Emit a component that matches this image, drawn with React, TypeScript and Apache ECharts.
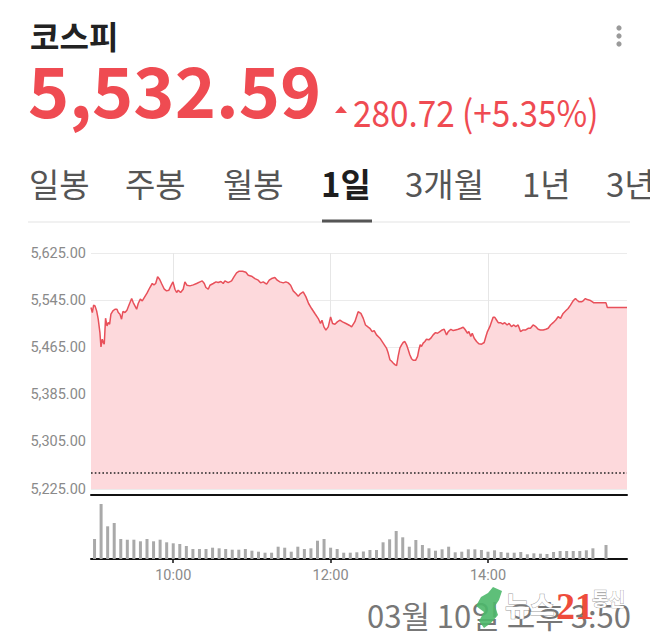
import React, { useEffect, useRef } from 'react';
import * as echarts from 'echarts';

// ---------- data ----------
const indexName = '코스피';
const lastPriceText = '5,532.59';
const changeText = '280.72 (+5.35%)';
const previousClose = 5251.87;
const periodTabs = ['일봉', '주봉', '월봉', '1일', '3개월', '1년', '3년'];
const activeTab = '1일';
const timestampText = '03월 10일 오후 3:50';

// y-axis ticks (index points)
const priceTicks = [5225, 5305, 5385, 5465, 5545, 5625];
// x-axis ticks: minutes after 09:00
const timeTicks = [60, 180, 300];
const timeTickLabels = ['10:00', '12:00', '14:00'];

// intraday price, [minutes after 09:00, index]
const openingSession = [
  [-2.7, 5532.6], [-1.7, 5524.1], [-0.7, 5536.5], [0.3, 5535.4], [1.6, 5526.9], [2.8, 5512.8],
  [4.1, 5490.2], [4.9, 5465.9], [5.9, 5478.9], [6.7, 5473.2], [7.4, 5470.4], [8.4, 5514.5],
  [9.5, 5501.5], [10.5, 5507.1], [11.5, 5504.3], [12.5, 5521.3], [14.0, 5526.9], [15.6, 5529.7],
  [17.1, 5529.7], [18.1, 5524.1], [19.4, 5521.3], [20.6, 5512.8], [21.6, 5525.8], [23.2, 5524.1],
  [24.7, 5528.0], [26.5, 5538.2], [28.3, 5547.8], [29.5, 5541.0], [30.8, 5535.4], [32.1, 5529.7],
  [33.3, 5539.4], [34.9, 5546.7], [36.4, 5543.9], [37.9, 5549.5], [40.0, 5556.9], [42.2, 5566.5],
  [44.0, 5573.3], [45.3, 5571.0], [46.6, 5573.3], [48.1, 5584.6], [49.6, 5580.6], [51.1, 5573.3],
  [53.2, 5563.6], [54.9, 5560.8], [56.7, 5562.0], [58.2, 5569.3], [59.8, 5576.1], [61.3, 5563.6],
  [62.6, 5558.0], [63.8, 5562.0], [65.6, 5558.0], [67.6, 5563.6], [68.9, 5576.1], [70.4, 5570.4],
  [72.7, 5569.3], [75.3, 5571.0], [77.8, 5573.3], [80.4, 5576.1], [82.1, 5577.8], [83.7, 5573.3],
  [84.9, 5566.5], [86.7, 5563.6], [88.0, 5570.4], [90.5, 5573.3], [92.6, 5576.1], [94.3, 5575.0],
  [96.4, 5576.6], [98.1, 5573.3], [99.4, 5577.8],
];
const lateMorning = [
  [101.9, 5574.9], [104.5, 5577.8], [106.3, 5584.6], [108.3, 5591.3], [110.3, 5594.2], [112.9, 5594.2],
  [115.4, 5592.5], [117.2, 5587.4], [119.7, 5585.7], [122.3, 5581.7], [124.8, 5578.9], [126.6, 5574.4],
  [128.6, 5576.1], [131.2, 5572.1], [133.2, 5578.9], [135.0, 5581.7], [137.5, 5583.4], [139.3, 5578.9],
  [141.3, 5576.1], [143.9, 5574.4], [145.9, 5576.1], [147.7, 5574.4], [149.5, 5570.4], [151.5, 5560.8],
  [153.5, 5556.3], [155.3, 5551.8], [157.1, 5556.3], [159.1, 5559.1], [161.2, 5550.6], [163.2, 5539.4],
  [165.5, 5530.9], [168.0, 5522.4], [170.6, 5513.9], [172.3, 5505.5], [173.4, 5511.1], [174.9, 5499.8],
  [176.4, 5494.2], [178.2, 5499.8], [180.0, 5516.8], [181.5, 5505.5], [183.3, 5504.3], [185.1, 5508.3],
  [187.1, 5511.1], [189.1, 5508.3], [191.7, 5505.5], [194.2, 5502.6], [196.0, 5499.8],
];
const earlyAfternoon = [
  [198.5, 5508.6], [201.0, 5525.4], [203.1, 5522.6], [204.9, 5514.2], [206.6, 5503.0], [208.2, 5500.2],
  [209.9, 5497.4], [211.7, 5491.8], [213.2, 5493.5], [215.0, 5486.2], [217.6, 5480.6], [220.1, 5472.2],
  [222.6, 5463.8], [223.9, 5455.4], [225.2, 5444.2], [226.5, 5441.4], [227.7, 5438.6], [229.0, 5435.8],
  [230.3, 5434.1], [231.5, 5449.8], [232.8, 5463.8], [234.1, 5469.4], [235.3, 5473.3], [236.6, 5475.0],
  [237.9, 5469.4], [239.2, 5461.0], [240.4, 5452.6], [241.7, 5445.9], [243.0, 5443.1], [244.8, 5443.1],
  [246.3, 5449.8], [247.3, 5461.0], [248.3, 5469.4], [249.3, 5466.6], [250.6, 5472.2], [251.9, 5475.0],
  [253.1, 5478.9], [254.9, 5477.8], [256.4, 5480.6], [258.2, 5486.2], [260.0, 5490.1], [261.5, 5489.0],
  [263.3, 5491.8], [265.1, 5494.6], [266.6, 5495.7], [268.4, 5486.2], [269.7, 5491.8], [271.7, 5495.7],
  [273.5, 5493.5], [275.2, 5494.6], [277.3, 5495.7], [279.3, 5497.4], [281.1, 5499.1], [282.4, 5495.7],
  [284.4, 5489.0], [285.4, 5491.8], [286.9, 5483.4], [288.0, 5489.0], [289.5, 5480.6], [291.3, 5475.0],
  [293.0, 5471.1], [295.1, 5470.5], [297.1, 5473.3], [298.4, 5483.4], [299.6, 5491.8],
];
const lateAfternoon = [
  [301.4, 5500.2], [302.7, 5508.6], [303.9, 5515.9], [305.2, 5515.9], [306.5, 5511.4], [307.8, 5506.9],
  [309.5, 5506.9], [311.1, 5504.7], [312.8, 5506.9], [314.6, 5503.0], [316.1, 5505.8], [317.9, 5500.2],
  [319.7, 5503.0], [321.2, 5500.2], [323.0, 5503.0], [324.8, 5491.8], [326.8, 5494.6], [328.8, 5494.6],
  [330.6, 5497.4], [332.4, 5497.4], [334.4, 5503.0], [336.5, 5500.2], [338.3, 5495.7], [340.0, 5494.6],
  [342.1, 5494.6], [344.1, 5495.7], [345.9, 5497.4], [347.7, 5503.0], [349.7, 5506.9], [351.7, 5511.4],
  [353.5, 5517.0], [355.3, 5514.2], [357.3, 5522.6], [359.3, 5527.1], [361.1, 5531.0], [362.9, 5536.6],
  [364.9, 5543.9], [366.7, 5547.8], [368.0, 5545.0], [369.5, 5542.2], [371.3, 5542.2], [372.6, 5543.9],
  [374.3, 5547.8], [375.6, 5546.1], [377.6, 5545.0], [379.7, 5542.2], [380.7, 5540.5], [390.0, 5540.5],
  [391.0, 5532.59], [406.0, 5532.59],
];

// volume per 5-minute bucket from 09:00 to 15:20 (relative units)
const volumeBars = [
  20, 55, 32.7, 36, 20, 19.3, 19.3, 17.7, 20, 17.7, 19.3, 16.7, 15.7, 15, 13, 10, 10, 10, 11.3, 10.7,
  10, 9.3, 9.3, 10, 8.3, 7.3, 6.3, 6.3, 12.3, 11.3, 7.3, 12.3, 10, 10.7, 18.3, 20, 11.3, 10, 6.3, 6.3,
  6.7, 7.5, 9, 9, 16.7, 19.7, 28, 21.7, 12.3, 19, 14, 10.7, 8.3, 9.7, 12.3, 6.7, 7.3, 9.7, 9.7, 9,
  7.3, 8.7, 7, 6.3, 6.3, 7, 4.7, 5.7, 5.3, 5, 7, 8, 8, 8, 8, 8.7, 10.7,
];
const closingAuctionMinute = 390;
const closingAuctionVolume = 14;

// ---------- chart ----------
const KR = "'Noto Sans CJK KR', 'Noto Sans', sans-serif";
const RED = '#ef4b52';

export default function App() {
  const ref = useRef<HTMLDivElement>(null);

  useEffect(() => {
    if (!ref.current) return;
    const chart = echarts.init(ref.current, null, { renderer: 'svg' });

    const priceSeries = [...openingSession, ...lateMorning, ...earlyAfternoon, ...lateAfternoon];
    const volumeSeries: number[][] = volumeBars.map((v, i) => [i * 5, v]);
    volumeSeries.push([closingAuctionMinute, closingAuctionVolume]);

    const tabX = [29, 125, 223, 321, 405, 522, 606];
    const tabEls = periodTabs.map((t, i) => ({
      type: 'text',
      x: tabX[i],
      y: 183,
      silent: true,
      style: {
        text: t,
        fontSize: 33,
        fontFamily: KR,
        fontWeight: t === activeTab ? 'bold' : 'normal',
        fill: t === activeTab ? '#1e1e1e' : '#555555',
        align: 'left',
        verticalAlign: 'middle',
      },
    }));

    const xMin = -2.7;
    const xMax = 406;
    const timeFmt = (v: number) => {
      const i = timeTicks.indexOf(v);
      return i >= 0 ? timeTickLabels[i] : '';
    };

    const option: any = {
      animation: false,
      backgroundColor: '#ffffff',
      grid: [
        { left: 91, right: 23, top: 253, height: 236 },
        { left: 91, right: 23, top: 495, height: 64 },
      ],
      xAxis: [
        {
          type: 'value', gridIndex: 0, min: xMin, max: xMax,
          axisLine: { show: false, onZero: false },
          axisTick: { show: false, customValues: timeTicks },
          axisLabel: { show: false },
          splitLine: { show: true, lineStyle: { color: '#e6e6e6', width: 1 } },
        },
        {
          type: 'value', gridIndex: 1, min: xMin, max: xMax, position: 'bottom',
          axisLine: { show: true, onZero: false, lineStyle: { color: '#111', width: 2 } },
          axisTick: { show: true, customValues: timeTicks, length: 4, lineStyle: { color: '#111', width: 1.5 } },
          axisLabel: {
            customValues: timeTicks, formatter: timeFmt, color: '#8a8a8a',
            fontSize: 14.5, fontFamily: 'Roboto', margin: 9,
          },
          splitLine: { show: false },
        },
        {
          type: 'value', gridIndex: 1, min: xMin, max: xMax, position: 'top',
          axisLine: { show: true, onZero: false, lineStyle: { color: '#111', width: 2 } },
          axisTick: { show: false },
          axisLabel: { show: false },
          splitLine: { show: false },
        },
      ],
      yAxis: [
        {
          type: 'value', gridIndex: 0, min: priceTicks[0], max: priceTicks[priceTicks.length - 1],
          axisLine: { show: false, onZero: false },
          axisTick: { show: false, customValues: priceTicks },
          axisLabel: {
            customValues: priceTicks,
            formatter: (v: number) => v.toLocaleString('en-US', { minimumFractionDigits: 2, maximumFractionDigits: 2 }),
            color: '#8a8a8a', fontSize: 14.5, fontFamily: 'Roboto', margin: 5,
          },
          splitLine: { show: true, lineStyle: { color: '#ebebeb', width: 1 } },
        },
        {
          type: 'value', gridIndex: 1, min: 0, max: 64, show: false,
          axisLine: { onZero: false }, splitLine: { show: false },
        },
      ],
      series: [
        {
          type: 'line', xAxisIndex: 0, yAxisIndex: 0, data: priceSeries,
          showSymbol: false, symbol: 'none', silent: true,
          lineStyle: { color: '#e8505a', width: 1.5 },
          areaStyle: { color: '#fdd9dc', opacity: 1, origin: 'start' },
          markLine: {
            silent: true, symbol: ['none', 'none'], label: { show: false },
            lineStyle: { color: '#222', width: 1.6, type: [1.6, 2.2] },
            data: [{ yAxis: previousClose }],
          },
        },
        {
          type: 'bar', xAxisIndex: 1, yAxisIndex: 1, data: volumeSeries,
          barWidth: 3, silent: true, itemStyle: { color: '#a9a9a9' },
        },
      ],
      graphic: [
        {
          type: 'text', x: 30, y: 35, silent: true,
          style: { text: indexName, fontSize: 32, fontWeight: 'bold', fontFamily: KR, fill: '#222', verticalAlign: 'middle' },
        },
        {
          type: 'circle', shape: { cx: 619, cy: 28, r: 2.6 }, style: { fill: '#9a9a9a' }, silent: true,
        },
        {
          type: 'circle', shape: { cx: 619, cy: 36, r: 2.6 }, style: { fill: '#9a9a9a' }, silent: true,
        },
        {
          type: 'circle', shape: { cx: 619, cy: 44, r: 2.6 }, style: { fill: '#9a9a9a' }, silent: true,
        },
        {
          type: 'text', x: 28, y: 87, silent: true,
          style: { text: lastPriceText, fontSize: 70, fontWeight: 'bold', fontFamily: KR, fill: RED, verticalAlign: 'middle' },
        },
        {
          type: 'polygon', silent: true,
          shape: { points: [[335, 113], [347, 113], [341, 106]] },
          style: { fill: RED },
        },
        {
          type: 'text', x: 353, y: 111, scaleX: 0.9, silent: true,
          style: { text: changeText, fontSize: 37, fontFamily: KR, fill: RED, verticalAlign: 'middle' },
        },
        ...tabEls,
        {
          type: 'line', silent: true,
          shape: { x1: 28, y1: 222, x2: 630, y2: 222 },
          style: { stroke: '#ececec', lineWidth: 1.5 },
        },
        {
          type: 'rect', silent: true,
          shape: { x: 322, y: 219.5, width: 50, height: 3 },
          style: { fill: '#555' },
        },
        {
          type: 'text', x: 367, y: 614, silent: true,
          style: { text: timestampText, fontSize: 31, fontFamily: KR, fill: '#777', verticalAlign: 'middle' },
        },
        // watermark
        {
          type: 'polygon', silent: true,
          shape: { points: [[493, 587], [502, 591], [499, 600], [495, 606], [498, 615], [491, 623], [484, 628], [479, 621], [484, 612], [476, 606], [481, 597], [488, 593]] },
          style: { fill: '#4cb86a', opacity: 0.9 },
        },
        {
          type: 'text', x: 505, y: 604, silent: true,
          style: { text: '뉴스', fontSize: 27, fontWeight: 'bold', fontFamily: KR, fill: '#ffffff', stroke: '#a0a0a0', lineWidth: 1, verticalAlign: 'middle' },
        },
        {
          type: 'text', x: 556, y: 606, silent: true,
          style: { text: '21', fontSize: 38, fontWeight: 'bold', fontFamily: "'Liberation Serif', 'DejaVu Serif', serif", fill: '#ee4c3c', verticalAlign: 'middle' },
        },
        {
          type: 'text', x: 592, y: 598, silent: true,
          style: { text: '통신', fontSize: 18, fontWeight: 'bold', fontFamily: KR, fill: '#ffffff', stroke: '#a0a0a0', lineWidth: 0.8, verticalAlign: 'middle' },
        },
      ],
    };

    chart.setOption(option);
    return () => chart.dispose();
  }, []);

  return (
    <div
      ref={ref}
      style={{ position: 'absolute', left: 0, top: 0, width: 650, height: 643, background: '#fff' }}
    />
  );
}
